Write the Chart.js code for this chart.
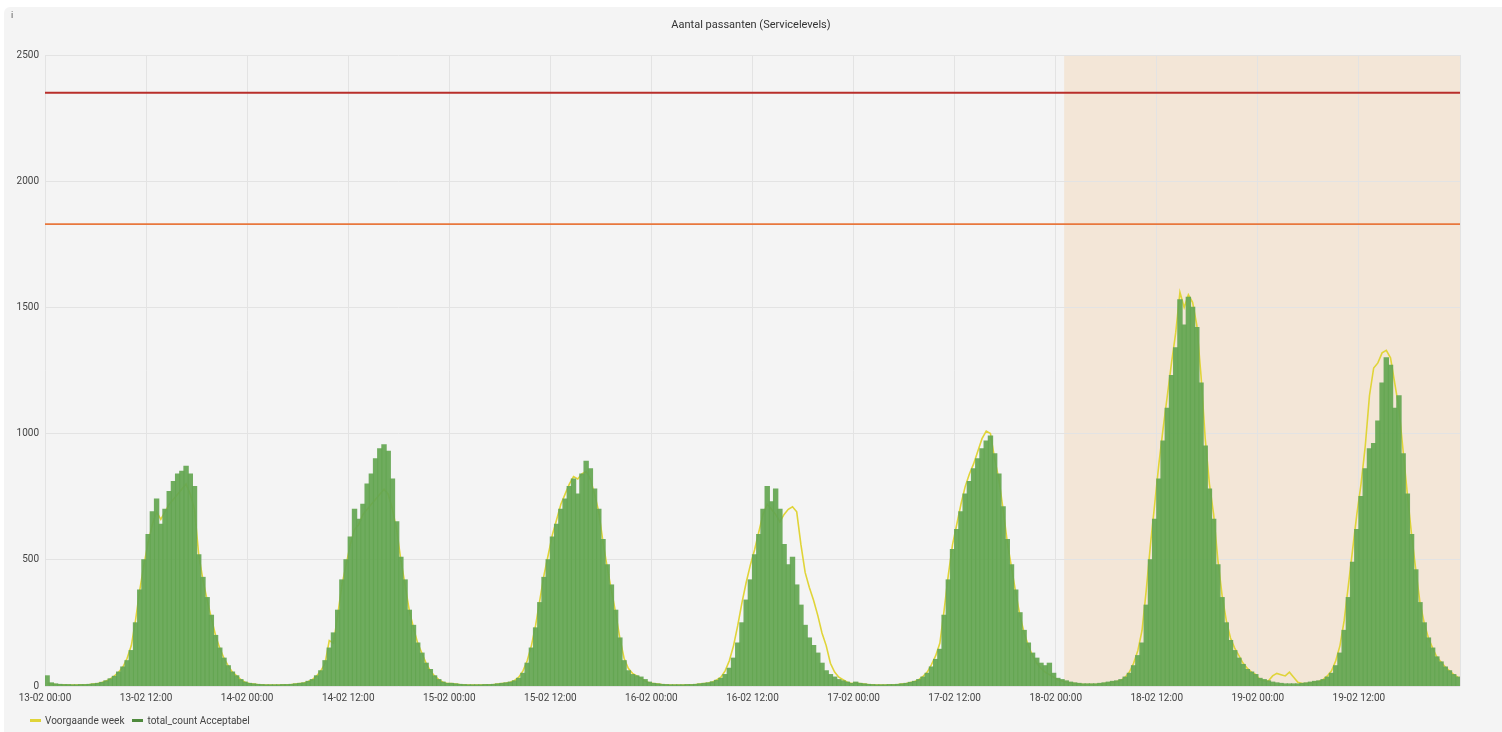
<!DOCTYPE html>
<html>
<head>
<meta charset="utf-8">
<script src="https://cdn.jsdelivr.net/npm/chart.js@4.4.0/dist/chart.umd.min.js"></script>
<style>
  html, body { margin: 0; padding: 0; background: #ffffff; }
  body { width: 1502px; height: 732px; position: relative; overflow: hidden; font-family: Roboto, "Noto Sans", sans-serif; }
  .panel { position: absolute; left: 4px; top: 7px; right: 0; bottom: 0; background: #f4f4f4; border-top-left-radius: 6px; }
  #wrap { position: absolute; left: 0; top: 0; width: 1502px; height: 732px; }
  .title { position: absolute; top: 18px; left: 0; width: 1502px; text-align: center; font-size: 11px; color: #333; }
  .info { position: absolute; top: 10px; left: 11px; font-size: 9px; color: #555; }
  .legend { position: absolute; left: 30px; top: 715px; font-size: 10px; color: #444; display: flex; align-items: center; }
  .legend .dash { display: inline-block; width: 11px; height: 3px; margin-right: 4px; }
  .legend .item { display: flex; align-items: center; margin-right: 8px; }
</style>
</head>
<body>
<div class="panel"></div>
<div id="wrap"><canvas id="chart" width="1502" height="732"></canvas></div>
<div class="info">i</div>
<div class="title">Aantal passanten (Servicelevels)</div>
<div class="legend">
  <span class="item"><span class="dash" style="background:#e0d438"></span>Voorgaande week</span>
  <span class="item"><span class="dash" style="background:#4f8a3d"></span>total_count Acceptabel</span>
</div>
<script>
// half-hour counts per day, 00:00 .. 23:30
const cur13 = [40,12,8,6,5,5,4,4,5,5,6,8, 10,14,20,28,38,55,75,100,140,250,380,500, 600,690,740,640,700,770,810,840,850,870,840,790, 520,430,350,280,200,150,110,80,55,40,25,15];
const cur14 = [10,8,6,5,4,4,4,4,5,5,6,8, 10,12,18,25,40,60,100,150,210,300,420,500, 590,700,660,720,800,840,900,940,955,930,820,650, 510,420,300,240,170,130,90,65,40,25,15,10];
const cur15 = [10,8,6,5,4,4,4,4,5,5,6,8, 10,12,15,20,30,50,90,150,230,330,430,500, 590,640,700,740,790,820,760,840,890,860,780,700, 580,480,400,300,190,100,60,45,40,35,25,15];
const cur16 = [10,8,6,5,4,4,4,4,5,5,6,8, 10,12,16,22,30,45,70,110,170,250,340,420, 520,600,700,790,730,780,700,560,480,510,400,320, 240,190,160,130,90,60,45,35,25,20,15,10];
const cur17 = [15,10,8,6,5,4,4,4,5,5,6,8, 10,14,18,25,35,50,75,105,145,280,420,540, 620,690,760,810,860,900,940,970,990,920,840,710, 580,480,380,290,220,170,130,110,90,80,90,50];
const cur18 = [30,25,20,15,12,10,8,8,8,8,10,12, 15,18,20,25,35,50,80,120,170,320,500,660, 820,970,1100,1230,1340,1530,1430,1540,1500,1420,1200,950, 780,660,480,350,250,180,140,110,85,65,55,45];
const cur19 = [30,25,20,15,12,10,8,8,8,8,10,12, 15,18,20,25,35,50,80,130,220,350,490,620, 750,860,940,960,1050,1200,1300,1270,1100,1150,920,760, 600,460,330,250,190,150,115,95,75,60,45,35];

const prev13 = [10,8,6,5,5,4,4,4,5,5,6,8, 10,14,20,28,40,55,75,110,160,260,380,480, 570,640,690,660,690,720,740,760,780,800,760,700, 520,420,340,270,200,150,110,80,55,40,25,15];
const prev14 = [10,8,6,5,4,4,4,4,5,5,6,8, 10,12,18,25,40,60,90,180,170,280,400,480, 560,620,640,680,700,720,740,760,780,760,700,620, 500,400,300,230,170,130,90,60,40,25,15,10];
const prev15 = [10,8,6,5,4,4,4,4,5,5,6,8, 10,12,15,22,35,60,100,160,240,340,440,520, 600,660,720,760,800,830,820,840,850,820,760,690, 570,470,380,290,190,110,70,50,40,30,20,12];
const prev16 = [10,8,6,5,4,4,4,4,5,5,6,8, 10,12,16,24,35,60,100,160,240,330,410,480, 540,610,680,720,700,680,650,680,700,710,690,560, 450,390,340,280,210,160,90,55,35,25,15,10];
const prev17 = [12,10,8,6,5,4,4,4,5,5,6,8, 10,14,18,25,38,55,85,120,170,300,440,560, 640,720,790,840,880,930,980,1010,1000,900,820,700, 570,470,370,280,210,160,120,90,70,55,45,35];
const prev18 = [25,20,15,12,10,8,6,6,6,6,8,10, 12,15,18,22,35,55,90,140,220,380,560,720, 880,1020,1150,1280,1400,1560,1500,1550,1520,1430,1230,980, 800,680,500,360,260,190,150,120,90,70,55,45];
const prev19 = [25,20,20,40,50,45,40,55,35,15,10,10, 12,15,18,25,40,60,100,160,260,400,540,680, 800,950,1150,1260,1280,1320,1330,1300,1200,1100,930,760, 600,460,330,250,190,150,115,95,75,60,45,35];

const tickLabels = ['13-02 00:00','13-02 12:00','14-02 00:00','14-02 12:00','15-02 00:00','15-02 12:00','16-02 00:00','16-02 12:00','17-02 00:00','17-02 12:00','18-02 00:00','18-02 12:00','19-02 00:00','19-02 12:00'];
const thresholds = [2350, 1830];   // kritiek, waarschuwing
const regionHours = [121, 168];     // gemarkeerde periode

const current = [].concat(cur13, cur14, cur15, cur16, cur17, cur18, cur19);
const previous = [].concat(prev13, prev14, prev15, prev16, prev17, prev18, prev19);
const toPoints = arr => arr.map((v, i) => ({ x: i * 0.5 + 0.25, y: v }));

const regionPlugin = {
  id: 'region',
  beforeDraw(chart) {
    const { ctx, chartArea, scales } = chart;
    const x1 = scales.x.getPixelForValue(regionHours[0]);
    const x2 = scales.x.getPixelForValue(regionHours[1]);
    ctx.save();
    ctx.fillStyle = '#f3e6d7';
    ctx.fillRect(x1, chartArea.top, x2 - x1, chartArea.bottom - chartArea.top);
    ctx.restore();
  }
};

new Chart(document.getElementById('chart'), {
  type: 'bar',
  data: {
    datasets: [
      { type: 'line', label: 'Voorgaande week', data: toPoints(previous), borderColor: '#e0d438', borderWidth: 1.6, pointRadius: 0, tension: 0, order: 2 },
      { type: 'bar', label: 'total_count Acceptabel', data: toPoints(current), backgroundColor: 'rgba(100,166,82,0.93)', borderWidth: 0, inflateAmount: 0.6, barPercentage: 1, categoryPercentage: 1, order: 1 },
      { type: 'line', label: 'kritiek', data: [{ x: 0, y: thresholds[0] }, { x: 168, y: thresholds[0] }], borderColor: '#b82e2a', borderWidth: 2, pointRadius: 0, order: 0 },
      { type: 'line', label: 'waarschuwing', data: [{ x: 0, y: thresholds[1] }, { x: 168, y: thresholds[1] }], borderColor: '#e8773c', borderWidth: 1.6, pointRadius: 0, order: 0 }
    ]
  },
  options: {
    responsive: false,
    animation: false,
    layout: { padding: { left: 0, right: 42, top: 55, bottom: 26 } },
    plugins: { legend: { display: false }, title: { display: false }, tooltip: { enabled: false } },
    scales: {
      x: {
        type: 'linear', min: 0, max: 168, offset: false,
        grid: { color: '#e3e3e3', drawTicks: false, offset: false },
        border: { display: false },
        ticks: { stepSize: 12, autoSkip: false, maxRotation: 0, padding: 6, color: '#444', font: { family: 'Roboto', size: 10 },
          callback: v => tickLabels[v / 12] || '' },
        afterFit: s => { s.height = 20; }
      },
      y: {
        min: 0, max: 2500,
        grid: { color: '#e3e3e3', drawTicks: false },
        border: { display: false },
        ticks: { stepSize: 500, padding: 6, color: '#444', font: { family: 'Roboto', size: 10 },
          callback: v => String(v) },
        afterFit: s => { s.width = 45; }
      }
    }
  },
  plugins: [regionPlugin]
});
</script>
</body>
</html>
